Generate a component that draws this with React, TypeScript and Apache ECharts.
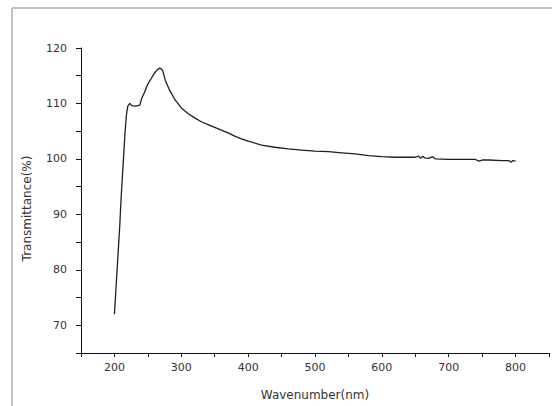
import React, { useEffect, useRef } from "react";
import * as echarts from "echarts";

const wavelengths = [
  200, 202, 204, 206, 208, 210, 212, 214, 216, 218, 220, 223, 226, 232, 238, 241, 245, 250, 255, 260,
  265, 268, 272, 276, 282, 290, 300, 310, 320, 330, 340, 350, 360, 370, 380, 390, 400, 420, 440, 460,
  480, 500, 520, 540, 560, 580, 600, 620, 640, 650, 655, 658, 661, 664, 670, 676, 680, 700, 720, 740,
  745, 750, 760, 780, 790, 793, 796, 800,
];
const transmittance = [
  72, 76, 80, 84, 88, 93, 97, 101, 105, 108, 109.5, 110.0, 109.6, 109.5, 109.7, 111, 112, 113.5, 114.5, 115.5,
  116.2, 116.4, 116.0, 114.2, 112.5, 110.8, 109.2, 108.2, 107.4, 106.7, 106.2, 105.7, 105.2, 104.7, 104.1, 103.6,
  103.2, 102.5, 102.1, 101.8, 101.6, 101.4, 101.3, 101.1, 100.9, 100.6, 100.4, 100.3, 100.3, 100.3, 100.5, 100.1,
  100.5, 100.2, 100.1, 100.4, 100.0, 99.9, 99.9, 99.9, 99.6, 99.8, 99.8, 99.7, 99.7, 99.4, 99.7, 99.6,
];

const xTickLabels = ["200", "300", "400", "500", "600", "700", "800"];
const yTickLabels = ["70", "80", "90", "100", "110", "120"];

export default function App() {
  const ref = useRef<HTMLDivElement>(null);
  useEffect(() => {
    if (!ref.current) return;
    const chart = echarts.init(ref.current, null, { renderer: "svg" });
    const font = "DejaVu Sans";
    chart.setOption({
      animation: false,
      backgroundColor: "#ffffff",
      grid: { left: 81, top: 48, width: 474, height: 310, containLabel: false },
      graphic: [
        { type: "line", shape: { x1: 12, y1: 8, x2: 552, y2: 8 }, style: { stroke: "#c4c4b8", lineWidth: 2 } },
        { type: "line", shape: { x1: 12, y1: 8, x2: 12, y2: 406 }, style: { stroke: "#c4c4b8", lineWidth: 2 } },
      ],
      xAxis: {
        type: "value",
        min: 150,
        max: 850,
        interval: 50,
        name: "Wavenumber(nm)",
        nameLocation: "middle",
        nameGap: 36,
        nameTextStyle: { fontFamily: font, fontSize: 12, color: "#333" },
        axisLine: { show: true, lineStyle: { color: "#111", width: 1 } },
        axisTick: { show: true, length: 4, lineStyle: { color: "#111" } },
        splitLine: { show: false },
        axisLabel: {
          fontFamily: font,
          fontSize: 11,
          color: "#333",
          margin: 9,
          formatter: (v: number) => (xTickLabels.includes(String(v)) ? String(v) : ""),
        },
      },
      yAxis: {
        type: "value",
        min: 65,
        max: 120,
        interval: 5,
        name: "Transmittance(%)",
        nameLocation: "middle",
        nameGap: 48,
        nameRotate: 90,
        nameTextStyle: { fontFamily: font, fontSize: 12, color: "#333", padding: [0, 16, 0, 0] },
        axisLine: { show: true, lineStyle: { color: "#111", width: 1 } },
        axisTick: { show: true, length: 5, lineStyle: { color: "#111" } },
        splitLine: { show: false },
        axisLabel: {
          fontFamily: font,
          fontSize: 11,
          color: "#333",
          margin: 14,
          formatter: (v: number) => (yTickLabels.includes(String(v)) ? String(v) : ""),
        },
      },
      series: [
        {
          type: "line",
          data: wavelengths.map((w, i) => [w, transmittance[i]]),
          showSymbol: false,
          lineStyle: { color: "#1e1e1e", width: 1.3 },
        },
      ],
    });
    return () => chart.dispose();
  }, []);
  return (
    <div
      ref={ref}
      style={{ position: "absolute", left: 0, top: 0, width: 552, height: 406 }}
    />
  );
}
